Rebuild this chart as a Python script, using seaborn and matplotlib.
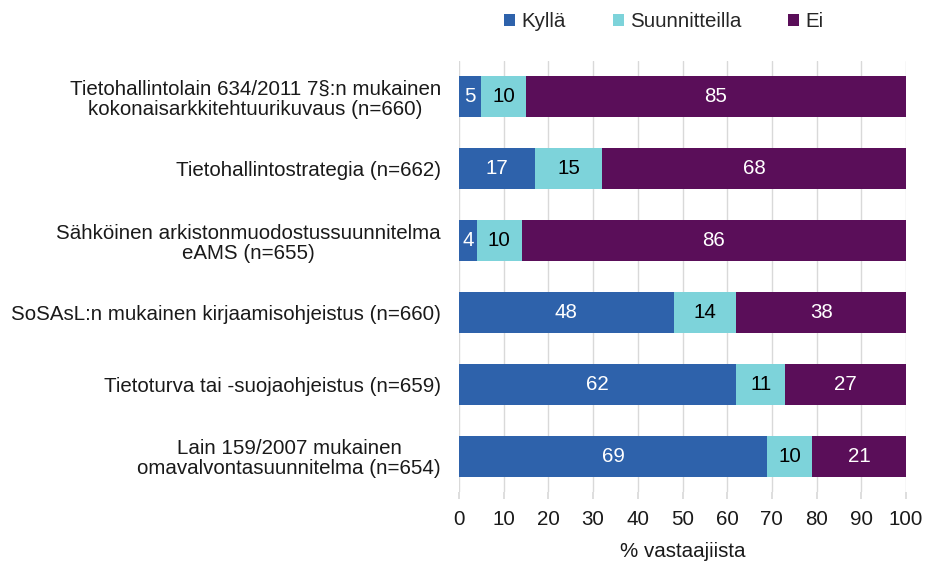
import matplotlib
matplotlib.use("Agg")
import matplotlib.pyplot as plt
import seaborn as sns
import pandas as pd
import numpy as np
from matplotlib.patches import Patch

categories = [
    "Tietohallintolain 634/2011 7§:n mukainen\nkokonaisarkkitehtuurikuvaus (n=660)",
    "Tietohallintostrategia (n=662)",
    "Sähköinen arkistonmuodostussuunnitelma\neAMS (n=655)",
    "SoSAsL:n mukainen kirjaamisohjeistus (n=660)",
    "Tietoturva tai -suojaohjeistus (n=659)",
    "Lain 159/2007 mukainen\nomavalvontasuunnitelma (n=654)",
]
kylla = [5, 17, 4, 48, 62, 69]
suunnitteilla = [10, 15, 10, 14, 11, 10]
ei = [85, 68, 86, 38, 27, 21]
series_names = ["Kyllä", "Suunnitteilla", "Ei"]
x_ticks = [0, 10, 20, 30, 40, 50, 60, 70, 80, 90, 100]

colors = ["#2E62AB", "#7DD3DA", "#5A0E59"]
text_colors = ["white", "black", "white"]
FS = 14.8

sns.set_theme(style="white")
plt.rcParams["font.family"] = ["Liberation Sans", "DejaVu Sans"]

df = pd.DataFrame({"kategoria": categories, "Kyllä": kylla,
                   "Suunnitteilla": suunnitteilla, "Ei": ei})
df["c1"] = df["Kyllä"]
df["c2"] = df["Kyllä"] + df["Suunnitteilla"]
df["c3"] = df["c2"] + df["Ei"]

fig = plt.figure(figsize=(9.26, 5.63), dpi=100)
ax = fig.add_axes([0.4957, 0.1261, 0.4827, 0.7656])

# cumulative layers drawn back to front give the stacked bars
for col, color in zip(["c3", "c2", "c1"], colors[::-1]):
    sns.barplot(data=df, x=col, y="kategoria", color=color, width=0.57,
                saturation=1, ax=ax, zorder=3, linewidth=0, orient="h")

# segment value labels
starts = np.zeros(len(categories))
for vals, tc in zip([kylla, suunnitteilla, ei], text_colors):
    for i, v in enumerate(vals):
        ax.text(starts[i] + v / 2, i, str(v), ha="center", va="center",
                color=tc, fontsize=FS, zorder=4)
    starts += np.array(vals)

ax.set_xlim(0, 100)
ax.set_ylim(len(categories) - 0.5, -0.5)
ax.set_xticks(x_ticks)
ax.set_xticklabels([str(t) for t in x_ticks], fontsize=FS, color="#1a1a1a")
ax.grid(axis="x", color="#d9d9d9", linewidth=1, zorder=0)
ax.grid(axis="y", visible=False)
for s in ax.spines.values():
    s.set_visible(False)
ax.tick_params(axis="x", length=5, color="#d9d9d9", pad=8, bottom=True)
ax.tick_params(axis="y", length=0, pad=13)
for lbl in ax.get_yticklabels():
    lbl.set_fontsize(FS)
    lbl.set_multialignment("center")
    lbl.set_linespacing(1.08)
    lbl.set_color("#1a1a1a")
ax.set_ylabel("")
ax.set_xlabel("% vastaajiista", fontsize=FS, color="#1a1a1a", labelpad=9)

handles = [Patch(facecolor=c, edgecolor="none") for c in colors]
fig.legend(handles, series_names, loc="center", bbox_to_anchor=(0.717, 0.961),
           ncol=3, frameon=False, fontsize=FS, handlelength=0.55,
           handleheight=0.55, handletextpad=0.3, columnspacing=2.27)

fig.savefig("out.png", dpi=100)
